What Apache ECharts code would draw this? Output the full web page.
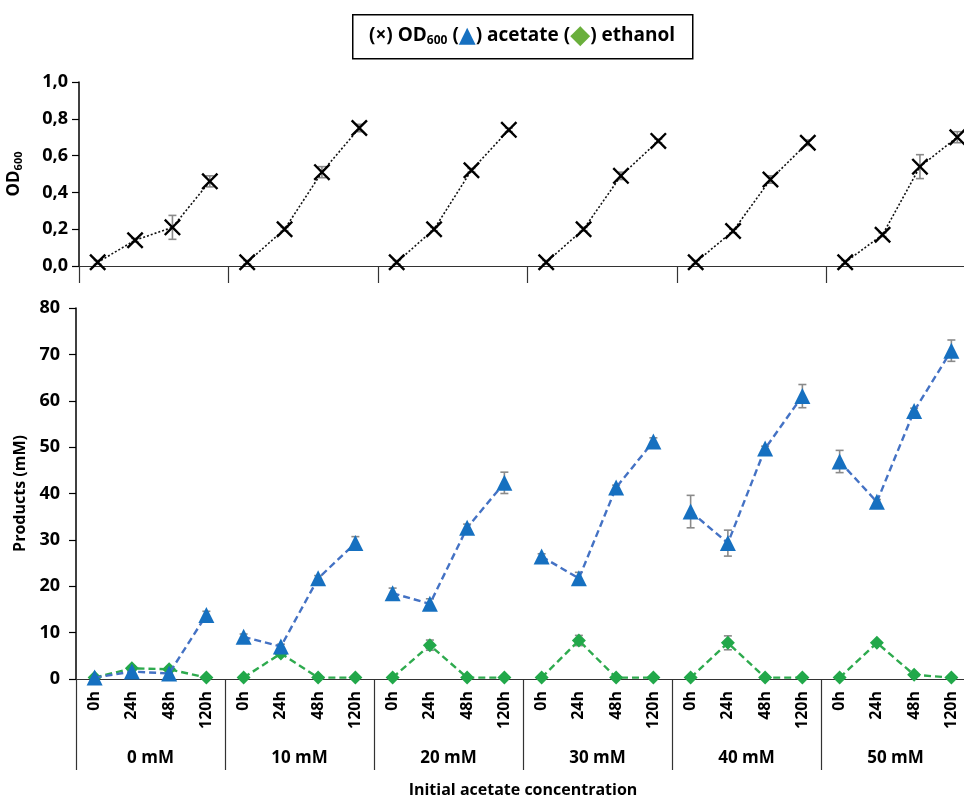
<!DOCTYPE html>
<html>
<head>
<meta charset="utf-8">
<script src="https://cdn.jsdelivr.net/npm/echarts@6/dist/echarts.min.js"></script>
<style>
  html, body { margin: 0; padding: 0; background: #ffffff; }
  #chart { width: 964px; height: 799px; }
</style>
</head>
<body>
<div id="chart"></div>
<script>
// Initial acetate concentrations and sampling times
const groups = ['0 mM', '10 mM', '20 mM', '30 mM', '40 mM', '50 mM'];
const times = ['0h', '24h', '48h', '120h'];

// Optical density (OD600), four time points per group
const od = [
  0.02, 0.14, 0.21, 0.46,
  0.02, 0.20, 0.51, 0.75,
  0.02, 0.20, 0.52, 0.74,
  0.02, 0.20, 0.49, 0.68,
  0.02, 0.19, 0.47, 0.67,
  0.02, 0.17, 0.54, 0.70
];
const odErr = [
  0.01, 0.01, 0.065, 0.03,
  0.01, 0.01, 0.03, 0.02,
  0.01, 0.01, 0.01, 0.01,
  0.01, 0.01, 0.02, 0.01,
  0.01, 0.01, 0.02, 0.015,
  0.01, 0.01, 0.065, 0.03
];

// Acetate (mM)
const acetate = [
  0.3, 1.6, 1.2, 13.8,
  9.1, 7.0, 21.7, 29.3,
  18.5, 16.2, 32.6, 42.3,
  26.4, 21.7, 41.3, 51.2,
  36.1, 29.3, 49.7, 61.0,
  46.9, 38.2, 57.8, 70.8
];
const acetateErr = [
  0.1, 0.3, 0.3, 0.8,
  0.6, 0.5, 0.6, 1.4,
  1.1, 1.1, 0.8, 2.3,
  0.6, 1.3, 0.5, 0.8,
  3.5, 2.8, 0.5, 2.5,
  2.4, 0.5, 0.6, 2.3
];

// Ethanol (mM)
const ethanol = [
  0.3, 2.3, 2.1, 0.3,
  0.3, 5.5, 0.3, 0.3,
  0.3, 7.3, 0.3, 0.3,
  0.3, 8.3, 0.3, 0.3,
  0.3, 7.8, 0.3, 0.3,
  0.3, 7.8, 0.9, 0.3
];
const ethanolErr = [
  0.1, 0.5, 0.4, 0.1,
  0.1, 0.5, 0.1, 0.1,
  0.1, 1.1, 0.1, 0.1,
  0.1, 1.1, 0.1, 0.1,
  0.1, 1.5, 0.1, 0.1,
  0.1, 0.3, 0.5, 0.1
];

const FONT = '"Open Sans", "Noto Sans", sans-serif';
const categories = [];
groups.forEach(() => times.forEach(t => categories.push(t)));

// One line per concentration so the curves break between groups
function groupSlice(values, g) {
  return values.map((v, i) => (Math.floor(i / times.length) === g ? v : '-'));
}

function errorData(values, errs) {
  return values.map((v, i) => [i, v - errs[i], v + errs[i]]);
}

function errorBarSeries(xi, yi, values, errs) {
  return {
    type: 'custom',
    xAxisIndex: xi,
    yAxisIndex: yi,
    z: 1,
    silent: true,
    data: errorData(values, errs),
    encode: { x: 0, y: [1, 2] },
    renderItem: function (params, api) {
      const lo = api.coord([api.value(0), api.value(1)]);
      const hi = api.coord([api.value(0), api.value(2)]);
      const cap = 4;
      const style = { stroke: '#8a8a8a', lineWidth: 1.6 };
      return {
        type: 'group',
        children: [
          { type: 'line', shape: { x1: lo[0], y1: lo[1], x2: hi[0], y2: hi[1] }, style },
          { type: 'line', shape: { x1: lo[0] - cap, y1: lo[1], x2: lo[0] + cap, y2: lo[1] }, style },
          { type: 'line', shape: { x1: hi[0] - cap, y1: hi[1], x2: hi[0] + cap, y2: hi[1] }, style }
        ]
      };
    }
  };
}

const crossPath = 'path://M0,1L1,0L5,4L9,0L10,1L6,5L10,9L9,10L5,6L1,10L0,9L4,5Z';

const series = [];
series.push(errorBarSeries(0, 0, od, odErr));
series.push(errorBarSeries(2, 1, acetate, acetateErr));
series.push(errorBarSeries(2, 1, ethanol, ethanolErr));

groups.forEach((g, gi) => {
  series.push({
    type: 'line',
    name: 'OD600',
    xAxisIndex: 0,
    yAxisIndex: 0,
    z: 3,
    data: groupSlice(od, gi),
    symbol: crossPath,
    symbolSize: 17,
    itemStyle: { color: '#000000' },
    lineStyle: { color: '#111111', width: 1.6, type: [2, 2] }
  });
  series.push({
    type: 'line',
    name: 'ethanol',
    xAxisIndex: 2,
    yAxisIndex: 1,
    z: 3,
    data: groupSlice(ethanol, gi),
    symbol: 'diamond',
    symbolSize: 14,
    itemStyle: { color: '#22a84a' },
    lineStyle: { color: '#2eaa4e', width: 2.4, type: [7, 4] }
  });
  series.push({
    type: 'line',
    name: 'acetate',
    xAxisIndex: 2,
    yAxisIndex: 1,
    z: 4,
    data: groupSlice(acetate, gi),
    symbol: 'triangle',
    symbolSize: 16,
    itemStyle: { color: '#1670c0' },
    lineStyle: { color: '#4472c4', width: 2.4, type: [7, 4] }
  });
});

const yLabel = { color: '#000', fontFamily: FONT, fontWeight: 'bold', fontSize: 18 };

const option = {
  animation: false,
  backgroundColor: '#ffffff',
  grid: [
    { left: 79, width: 897, top: 82, height: 184, outerBoundsMode: 'none', containLabel: false },
    { left: 76, width: 894, top: 308, height: 371, outerBoundsMode: 'none', containLabel: false }
  ],
  xAxis: [
    {
      gridIndex: 0, type: 'category', data: categories, boundaryGap: true,
      axisLine: { lineStyle: { color: '#333', width: 1.2 } },
      axisTick: { show: false }, axisLabel: { show: false }
    },
    {
      gridIndex: 0, type: 'category', data: groups, position: 'bottom', boundaryGap: true,
      axisLine: { show: false },
      axisTick: { show: true, length: 17, lineStyle: { color: '#333', width: 1.2 } },
      axisLabel: { show: false }
    },
    {
      gridIndex: 1, type: 'category', data: categories, boundaryGap: true,
      axisLine: { lineStyle: { color: '#333', width: 1.2 } },
      axisTick: { show: false },
      axisLabel: {
        interval: 0, rotate: 90, margin: 12,
        color: '#000', fontFamily: FONT, fontWeight: 'bold', fontSize: 16
      },
      name: 'Initial acetate concentration',
      nameLocation: 'middle', nameGap: 103,
      nameTextStyle: { color: '#000', fontFamily: FONT, fontWeight: 'bold', fontSize: 16 }
    },
    {
      gridIndex: 1, type: 'category', data: groups, position: 'bottom', boundaryGap: true,
      axisLine: { show: false },
      axisTick: { show: true, length: 91, lineStyle: { color: '#333', width: 1.2 } },
      axisLabel: {
        interval: 0, margin: 71,
        color: '#000', fontFamily: FONT, fontWeight: 'bold', fontSize: 17
      }
    }
  ],
  yAxis: [
    {
      gridIndex: 0, type: 'value', min: 0, max: 1, interval: 0.2,
      axisLine: { show: true, lineStyle: { color: '#000', width: 1.5 } },
      axisTick: { show: true, length: 7, lineStyle: { color: '#000', width: 1.2 } },
      splitLine: { show: false },
      axisLabel: Object.assign({}, yLabel, {
        margin: 11,
        formatter: v => v.toFixed(1).replace('.', ',')
      }),
      name: '{m|OD}{s|600}',
      nameLocation: 'middle', nameGap: 55, nameRotate: 90,
      nameTextStyle: {
        rich: {
          m: { color: '#000', fontFamily: FONT, fontWeight: 'bold', fontSize: 17 },
          s: { color: '#000', fontFamily: FONT, fontWeight: 'bold', fontSize: 11, padding: [9, 0, 0, 0] }
        }
      }
    },
    {
      gridIndex: 1, type: 'value', min: 0, max: 80, interval: 10,
      axisLine: { show: true, lineStyle: { color: '#000', width: 1.5 } },
      axisTick: { show: true, length: 7, lineStyle: { color: '#000', width: 1.2 } },
      splitLine: { show: false },
      axisLabel: Object.assign({}, yLabel, { margin: 16 }),
      name: 'Products (mM)',
      nameLocation: 'middle', nameGap: 46, nameRotate: 90,
      nameTextStyle: { color: '#000', fontFamily: FONT, fontWeight: 'bold', fontSize: 16 }
    }
  ],
  graphic: [
    {
      type: 'rect', left: 352, top: 14, z: 10,
      shape: { width: 340, height: 44 },
      style: { fill: '#fff', stroke: '#000', lineWidth: 1.5 }
    },
    {
      type: 'text', z: 11, x: 522, y: 36,
      style: {
        text: '{t|(×) OD}{s|600}{t| (}{a|▲}{t|) acetate (}{e|◆}{t|) ethanol}',
        align: 'center',
        verticalAlign: 'middle',
        rich: {
          t: { fill: '#000', fontFamily: FONT, fontWeight: 'bold', fontSize: 19 },
          s: { fill: '#000', fontFamily: FONT, fontWeight: 'bold', fontSize: 12, padding: [9, 0, 0, 0] },
          a: { fill: '#1670c0', fontFamily: 'DejaVu Sans', fontSize: 22 },
          e: { fill: '#6aaf3c', fontFamily: 'DejaVu Sans', fontSize: 26 }
        }
      }
    }
  ],
  series: series
};

echarts.init(document.getElementById('chart')).setOption(option);
</script>
</body>
</html>
